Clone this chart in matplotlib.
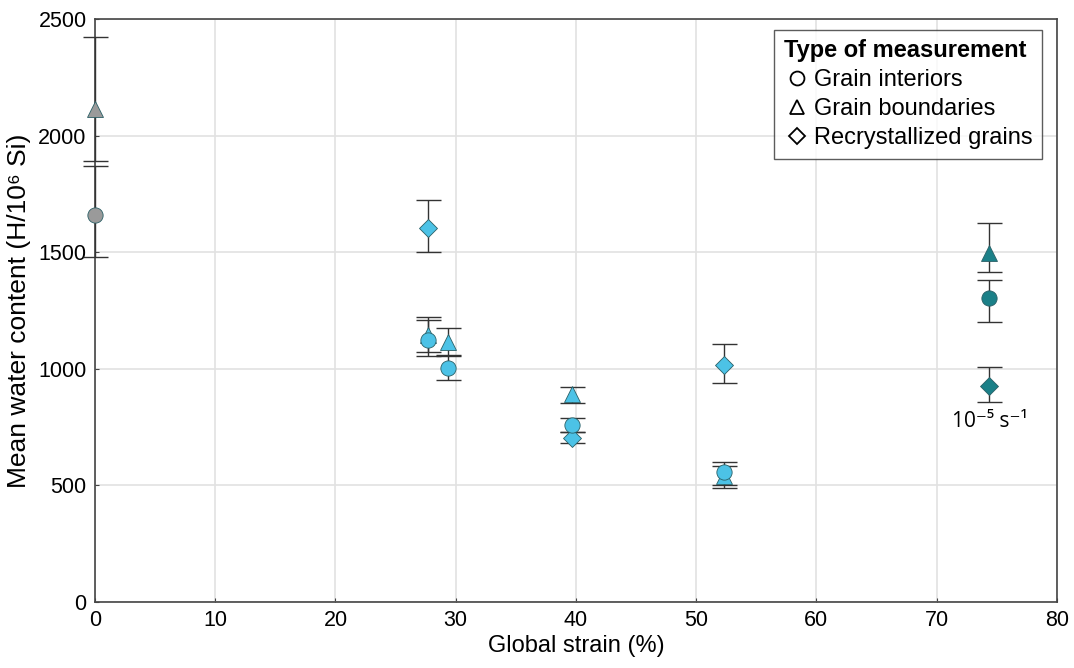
import numpy as np
import matplotlib
matplotlib.use("Agg")
from matplotlib import pyplot as plt
from matplotlib.lines import Line2D

plt.rcParams['font.family'] = ['Liberation Sans', 'DejaVu Sans']

# strain (%) per experiment and the colour group it belongs to
strain = [0.0, 27.7, 29.4, 39.7, 52.3, 74.4]
colors = ['#9a9a9a', '#4cc2e6', '#4cc2e6', '#4cc2e6', '#4cc2e6', '#1b8088']

# grain interiors: mean, lower error, upper error
gi_mean = [1660, 1125, 1005, 760, 555, 1304]
gi_low = [180, 70, 52, 30, 55, 102]
gi_high = [210, 98, 55, 28, 47, 77]

# grain boundaries
gb_mean = [2115, 1145, 1115, 890, 540, 1497]
gb_low = [225, 72, 62, 35, 51, 80]
gb_high = [310, 65, 60, 30, 43, 130]

# recrystallized grains (none at 0 %)
rx_strain = [27.7, 39.7, 52.3, 74.4]
rx_colors = ['#4cc2e6', '#4cc2e6', '#4cc2e6', '#1b8088']
rx_mean = [1603, 705, 1016, 926]
rx_low = [103, 25, 78, 68]
rx_high = [120, 25, 90, 83]

fig = plt.figure(figsize=(10.74, 6.68), dpi=100)
ax = fig.add_axes([0.0885, 0.099, 0.8955, 0.8725])


def draw_group(xs, ys, lo, hi, cols, marker, size):
    for x, y, l, h, c in zip(xs, ys, lo, hi, cols):
        ax.errorbar(x, y, yerr=[[l], [h]], fmt='none', ecolor='#333333',
                    elinewidth=1.0, capsize=9, capthick=1.0, zorder=3,
                    clip_on=False)
        ax.plot(x, y, marker=marker, ms=size, mfc=c, mec='#2a5f66',
                mew=0.6, ls='none', zorder=4, clip_on=False)


draw_group(rx_strain, rx_mean, rx_low, rx_high, rx_colors, 'D', 9)
draw_group(strain, gb_mean, gb_low, gb_high, colors, '^', 11)
draw_group(strain, gi_mean, gi_low, gi_high, colors, 'o', 11)

ax.annotate('10⁻⁵ s⁻¹', (74.4, 772), ha='center', va='center',
            fontsize=15, family=['Open Sans', 'DejaVu Sans'])

ax.set_xlim(0, 80)
ax.set_ylim(0, 2500)
ax.set_xticks(np.arange(0, 81, 10))
ax.set_yticks(np.arange(0, 2501, 500))
ax.grid(True, color='#e2e2e2', lw=1.2)
ax.set_axisbelow(True)
ax.tick_params(direction='in', length=3, color='#444444', labelsize=15.5,
               pad=6)
for s in ax.spines.values():
    s.set_color('#444444')
    s.set_linewidth(1.2)

ax.set_xlabel('Global strain (%)', fontsize=17, labelpad=3)
ax.set_ylabel('Mean water content (H/10⁶ Si)', fontsize=19, labelpad=5)

handles = [
    Line2D([], [], marker='o', ls='none', mfc='white', mec='black', ms=10, mew=1.3),
    Line2D([], [], marker='^', ls='none', mfc='white', mec='black', ms=10, mew=1.3),
    Line2D([], [], marker='D', ls='none', mfc='white', mec='black', ms=8, mew=1.3),
]
leg = ax.legend(handles, ['Grain interiors', 'Grain boundaries', 'Recrystallized grains'],
                title='Type of measurement', loc='upper right',
                bbox_to_anchor=(0.99, 0.99), fontsize=17, title_fontsize=17,
                frameon=True, fancybox=False, edgecolor='#333333',
                handletextpad=0.2, handlelength=1.1, borderpad=0.4,
                labelspacing=0.3, alignment='left', borderaxespad=0.2)
leg.get_title().set_fontweight('bold')
leg.get_frame().set_linewidth(1.0)

fig.savefig('out.png', dpi=100)
